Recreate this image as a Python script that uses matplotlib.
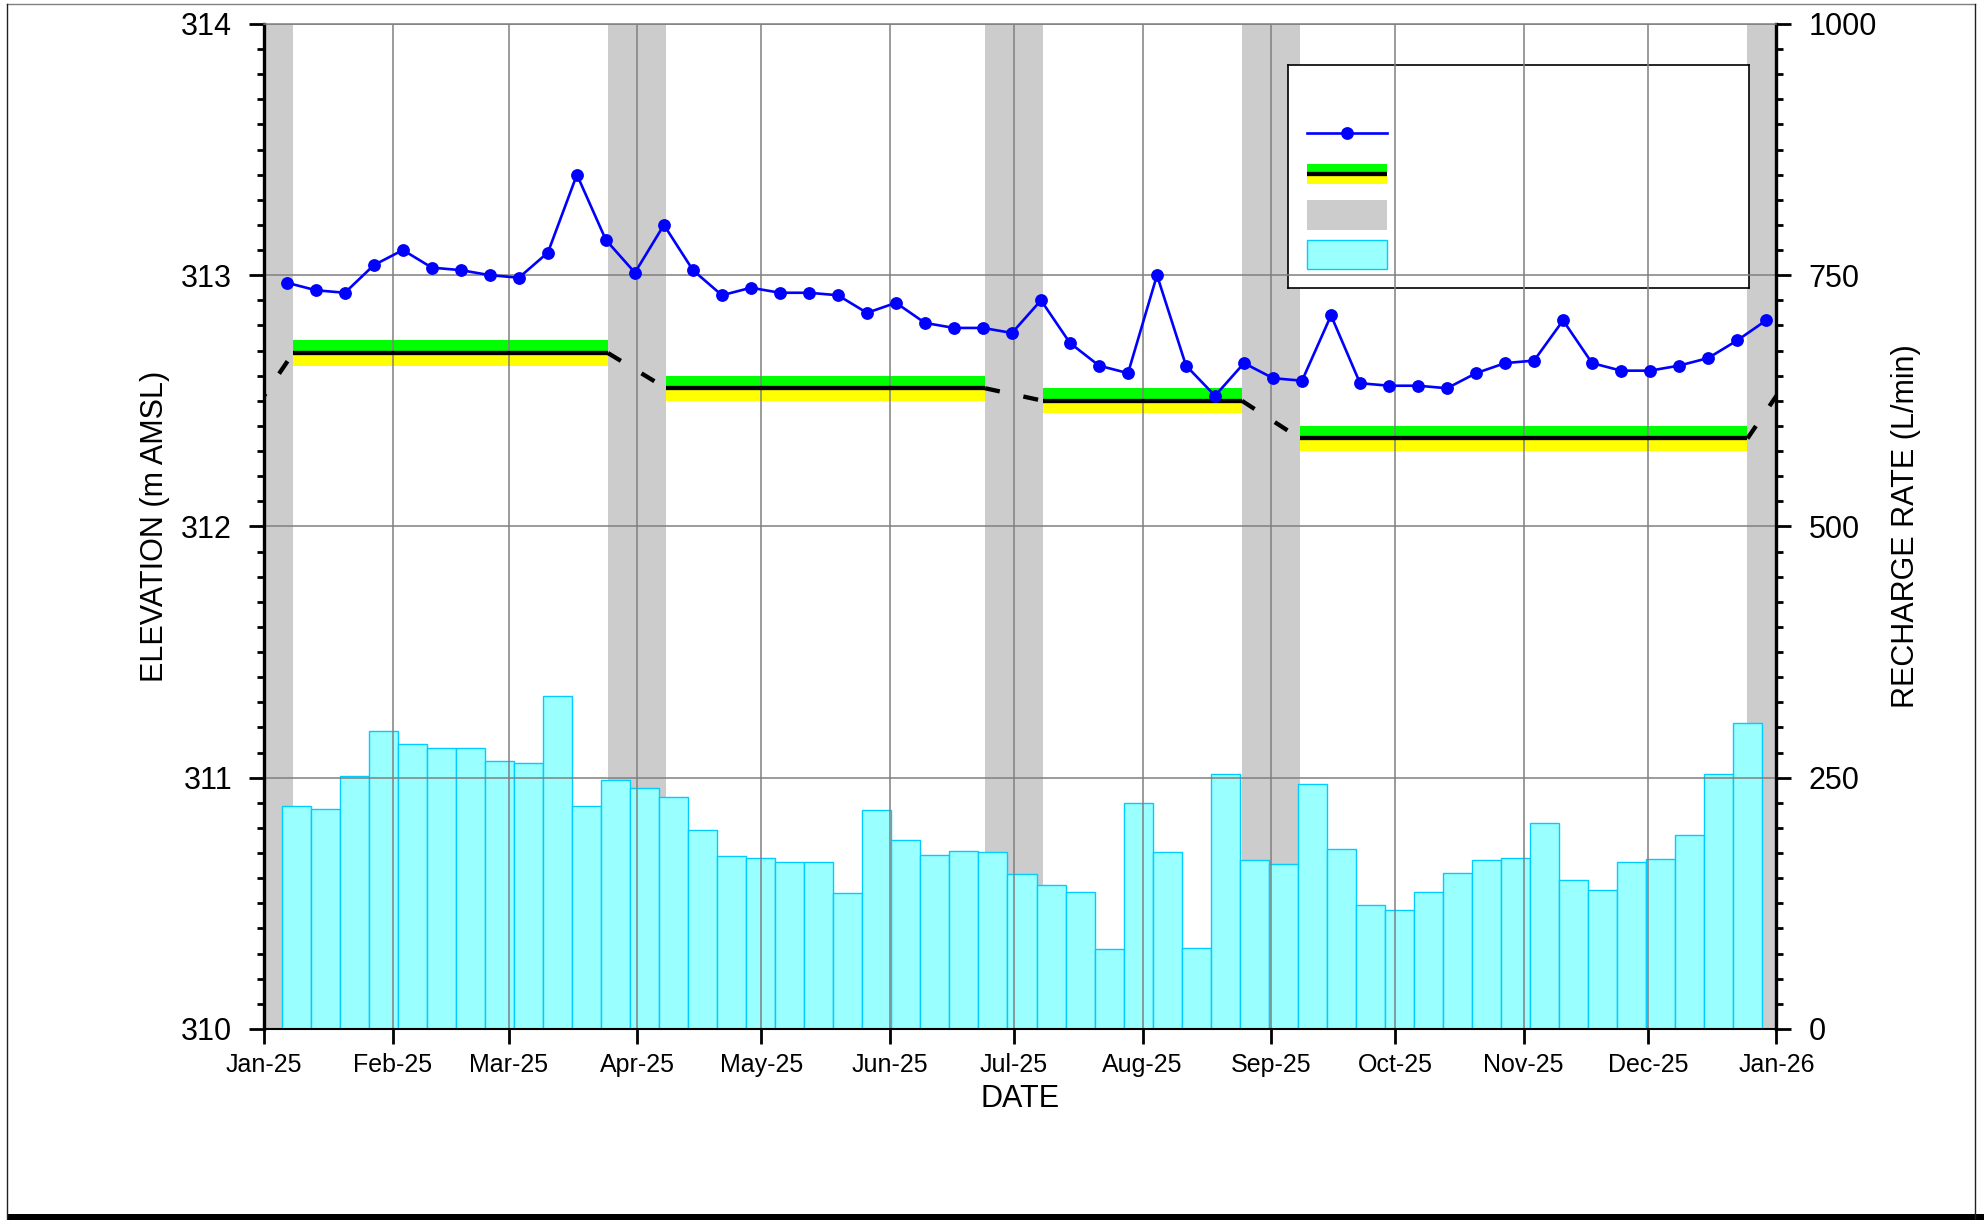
import pandas as pd
import matplotlib
matplotlib.use('Agg')
import matplotlib.pyplot as plt
import matplotlib.dates as mdates
from matplotlib.lines import Line2D
from matplotlib.patches import Rectangle
from matplotlib.ticker import MultipleLocator

plt.rcParams['font.family'] = ['Liberation Sans', 'DejaVu Sans']

# Weekly groundwater elevation (m AMSL)
level_dates = pd.date_range('2025-01-06 12:00', periods=52, freq='7D')
level_m = [312.97, 312.94, 312.93, 313.04, 313.10, 313.03, 313.02, 313.00, 312.99, 313.09,
           313.40, 313.14, 313.01, 313.20, 313.02, 312.92, 312.95, 312.93, 312.93, 312.92,
           312.85, 312.89, 312.81, 312.79, 312.79, 312.77, 312.90, 312.73, 312.64, 312.61,
           313.00, 312.64, 312.52, 312.65, 312.59, 312.58, 312.84, 312.57, 312.56, 312.56,
           312.55, 312.61, 312.65, 312.66, 312.82, 312.65, 312.62, 312.62, 312.64, 312.67,
           312.74, 312.82]

# Weekly recharge rate (L/min), bars start at week start
recharge_dates = pd.date_range('2025-01-05 10:00', periods=51, freq='7D')
recharge_lpm = [222, 219, 252, 296, 284, 280, 280, 267, 265, 331,
                222, 248, 240, 231, 198, 172, 170, 166, 166, 135,
                218, 188, 173, 177, 176, 154, 143, 136, 80, 225,
                176, 81, 254, 168, 164, 244, 179, 123, 118, 136,
                155, 168, 170, 205, 148, 138, 166, 169, 193, 254, 304]

# Shut-down periods (grey bands), 14 days each
shutdown_start = pd.to_datetime(['2024-12-25', '2025-03-25', '2025-06-24', '2025-08-25', '2025-12-25'])
shutdown_days = 14

# Target elevation per period, with +/- tolerance band
target_start = pd.to_datetime(['2024-10-01', '2025-01-08', '2025-04-08', '2025-07-08', '2025-09-08', '2026-01-08'])
target_end = pd.to_datetime(['2024-12-25', '2025-03-25', '2025-06-24', '2025-08-25', '2025-12-25', '2026-03-25'])
target_level = [312.35, 312.69, 312.55, 312.50, 312.35, 312.69]
tolerance = 0.05

grid_color = '#808080'

fig = plt.figure(figsize=(19.84, 12.20), dpi=100)
ax = fig.add_axes([0.1331, 0.1566, 0.7623, 0.8238])
ax2 = ax.twinx()
ax.set_zorder(ax2.get_zorder() + 1)
ax.patch.set_visible(False)

# --- recharge bars + shutdown bands on the lower (right) axis
for s in shutdown_start:
    ax2.axvspan(s, s + pd.Timedelta(days=shutdown_days), color='#CCCCCC', lw=0, zorder=0.5)
ax2.bar(recharge_dates, recharge_lpm, width=7, align='edge',
        color='#99FFFF', edgecolor='#00CCFF', linewidth=1.0, zorder=1)
ax2.set_ylim(0, 1000)
ax2.yaxis.set_major_locator(MultipleLocator(250))
ax2.yaxis.set_minor_locator(MultipleLocator(25))
ax2.tick_params(axis='y', which='major', length=11, width=2, labelsize=22, pad=12)
ax2.tick_params(axis='y', which='minor', length=5, width=2)
ax2.set_ylabel('RECHARGE RATE (L/min)', fontsize=22, labelpad=10)
for sp in ax2.spines.values():
    sp.set_visible(False)

# --- target bands
for i in range(len(target_level)):
    xs = [target_start[i], target_end[i]]
    lv = target_level[i]
    ax.fill_between(xs, lv, lv + tolerance, color='#00FF00', lw=0, zorder=1)
    ax.fill_between(xs, lv - tolerance, lv, color='#FFFF00', lw=0, zorder=1)
    ax.plot(xs, [lv, lv], color='black', lw=3.1, solid_capstyle='butt', zorder=2)
    if i + 1 < len(target_level):
        ax.plot([target_end[i], target_start[i + 1]], [lv, target_level[i + 1]],
                color='black', lw=3.1, dashes=(3.5, 5.6), zorder=2)

# --- water level
ax.plot(level_dates, level_m, color='#0000FF', lw=1.9, marker='o', markersize=8.2, zorder=3)

ax.set_xlim(pd.Timestamp('2025-01-01'), pd.Timestamp('2026-01-01'))
ax.set_ylim(310, 314)
ax.yaxis.set_major_locator(MultipleLocator(1))
ax.yaxis.set_minor_locator(MultipleLocator(0.1))
ax.xaxis.set_major_locator(mdates.MonthLocator())
ax.xaxis.set_major_formatter(mdates.DateFormatter('%b-%y'))
ax.grid(True, which='major', color=grid_color, lw=1.1)
ax.tick_params(axis='y', which='major', length=11, width=2, labelsize=22, pad=12)
ax.tick_params(axis='y', which='minor', length=5, width=2)
ax.tick_params(axis='x', which='major', length=11, width=2, labelsize=18, pad=6)
ax.set_ylabel('ELEVATION (m AMSL)', fontsize=22, labelpad=8)
ax.set_xlabel('DATE', fontsize=22, labelpad=5)

ax.spines['left'].set_linewidth(2.4)
ax.spines['right'].set_linewidth(2.4)
ax.spines['bottom'].set_linewidth(1.5)
ax.spines['top'].set_color(grid_color)
ax.spines['top'].set_linewidth(1.1)

# --- legend box (symbols only)
lg = fig.add_axes([0.6492, 0.7639, 0.2324, 0.1828])
lg.set_xlim(0, 1)
lg.set_ylim(0, 1)
lg.set_xticks([])
lg.set_yticks([])
for sp in lg.spines.values():
    sp.set_linewidth(1.2)
    sp.set_color('black')
sx0, sx1 = 0.041, 0.215
lg.plot([sx0, sx1], [0.696, 0.696], color='#0000FF', lw=1.9)
lg.plot([(sx0 + sx1) / 2], [0.696], 'o', color='#0000FF', markersize=8.2)
lg.add_patch(Rectangle((sx0, 0.510), sx1 - sx0, 0.046, color='#00FF00', lw=0))
lg.add_patch(Rectangle((sx0, 0.468), sx1 - sx0, 0.042, color='#FFFF00', lw=0))
lg.plot([sx0, sx1], [0.510, 0.510], color='black', lw=3.1, solid_capstyle='butt')
lg.add_patch(Rectangle((sx0, 0.260), sx1 - sx0, 0.135, color='#CCCCCC', lw=0))
lg.add_patch(Rectangle((sx0, 0.084), sx1 - sx0, 0.131, facecolor='#99FFFF', edgecolor='#00CCFF', lw=1.0))

# --- page frame
fx0, fx1 = 7 / 1984, 1975 / 1984
fy1 = 1 - 4 / 1220
fig.add_artist(Line2D([fx0, fx1], [fy1, fy1], transform=fig.transFigure, color=grid_color, lw=1))
fig.add_artist(Line2D([fx0, fx0], [0, fy1], transform=fig.transFigure, color='#202020', lw=1))
fig.add_artist(Line2D([fx1, fx1], [0, fy1], transform=fig.transFigure, color='#202020', lw=1))
fig.add_artist(Rectangle((fx0, 0), 1 - fx0, 6 / 1220, transform=fig.transFigure, color='black', lw=0))

fig.savefig('out.png', dpi=100)
